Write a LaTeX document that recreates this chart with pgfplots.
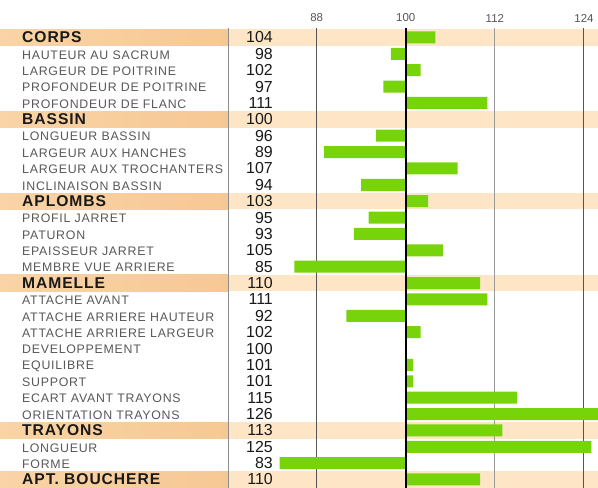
\documentclass[border=0pt]{standalone}
\usepackage{pgfplots}
\pgfplotsset{compat=1.18}
\usepackage{pgfplotstable}
\usepackage{fontspec}
\setmainfont{Liberation Sans}
\newfontfamily\labfont[LetterSpace=6]{Liberation Sans}
\newfontfamily\numfont{Liberation Sans}

\definecolor{barg}{RGB}{120,212,10}
\definecolor{bandp}{RGB}{253,229,197}
\definecolor{bandl}{RGB}{249,212,166}
\definecolor{bandm}{RGB}{239,174,106}
\definecolor{bandr}{RGB}{246,200,148}
\definecolor{labg}{RGB}{88,88,88}
\definecolor{tickg}{RGB}{85,85,85}

\pgfplotstableread[col sep=semicolon]{
row;name;val
1;HAUTEUR AU SACRUM;98
2;LARGEUR DE POITRINE;102
3;PROFONDEUR DE POITRINE;97
4;PROFONDEUR DE FLANC;111
6;LONGUEUR BASSIN;96
7;LARGEUR AUX HANCHES;89
8;LARGEUR AUX TROCHANTERS;107
9;INCLINAISON BASSIN;94
11;PROFIL JARRET;95
12;PATURON;93
13;EPAISSEUR JARRET;105
14;MEMBRE VUE ARRIERE;85
16;ATTACHE AVANT;111
17;ATTACHE ARRIERE HAUTEUR;92
18;ATTACHE ARRIERE LARGEUR;102
19;DEVELOPPEMENT;100
20;EQUILIBRE;101
21;SUPPORT;101
22;ECART AVANT TRAYONS;115
23;ORIENTATION TRAYONS;126
25;LONGUEUR;125
26;FORME;83
}\items

\pgfplotstableread[col sep=semicolon]{
row;name;val
0;CORPS;104
5;BASSIN;100
10;APLOMBS;103
15;MAMELLE;110
24;TRAYONS;113
27;APT. BOUCHERE;110
}\heads

\pgfplotstableread[col sep=semicolon]{
x;y;lab
-12;-1.19;88
0;-1.19;100
12;-1.19;112
24;-1.19;124
}\ticks

\newcommand\band[2]{%
  \addplot[draw=none, fill=bandp, forget plot] coordinates {(-23.94,#1) (26.5,#1) (26.5,#2) (-23.94,#2)} --cycle;
  \addplot[draw=none, left color=bandl, middle color=bandm, right color=bandr, forget plot] coordinates {(-55,#1) (-23.94,#1) (-23.94,#2) (-55,#2)} --cycle;
}

\begin{document}
\begin{tikzpicture}
\begin{axis}[
  scale only axis, width=598bp, height=488bp,
  xmin=-54.65, xmax=25.89, ymin=-2.29, ymax=27.52,
  y dir=reverse,
  axis line style={draw=none}, tick style={draw=none},
  xtick=\empty, ytick=\empty,
]
\addplot[draw=none, mark=none, forget plot] coordinates {(-54.65,-2.29) (25.89,27.52)};
% header bands
\band{-0.5}{0.5}
\band{4.5}{5.5}
\band{9.5}{10.5}
\band{14.5}{15.5}
\band{23.5}{24.5}
\band{26.5}{27.5}
% grid lines
\addplot[draw=tickg, line width=1bp, forget plot] coordinates {(-12,-0.58) (-12,27.6)};
\addplot[draw=black!40, line width=1bp, forget plot] coordinates {(12,-0.58) (12,27.6)};
\addplot[draw=tickg, line width=1bp, forget plot] coordinates {(24,-0.58) (24,27.6)};
\addplot[draw=black!45, line width=0.8bp, forget plot] coordinates {(-23.94,-0.58) (-23.94,27.6)};
% bars
\addplot[xbar, bar shift=0pt, bar width=12bp, fill=barg, draw=none, forget plot]
  table[x expr=\thisrow{val}-100, y=row] {\items};
\addplot[xbar, bar shift=0pt, bar width=12bp, fill=barg, draw=none, forget plot]
  table[x expr=\thisrow{val}-100, y=row] {\heads};
% 100 line
\addplot[draw=black, line width=2.4bp, forget plot] coordinates {(0,-0.58) (0,27.6)};
% tick labels
\addplot[draw=none, mark=none, nodes near coords, point meta=explicit symbolic,
  nodes near coords style={anchor=center, inner sep=0pt, text=tickg, font=\fontsize{11.5}{11.5}\selectfont}]
  table[x=x, y=y, meta=lab] {\ticks};
% item labels
\addplot[draw=none, mark=none, nodes near coords, point meta=explicit symbolic,
  nodes near coords style={anchor=west, inner sep=0pt, yshift=-1bp, text=labg, font=\labfont\fontsize{12.4}{12.4}\selectfont}]
  table[x expr=-51.69, y=row, meta=name] {\items};
% header labels
\addplot[draw=none, mark=none, nodes near coords, point meta=explicit symbolic,
  nodes near coords style={anchor=west, inner sep=0pt, text=black!90, font=\labfont\bfseries\fontsize{15.7}{15.7}\selectfont}]
  table[x expr=-51.69, y=row, meta=name] {\heads};
% numbers
\addplot[draw=none, mark=none, nodes near coords, point meta=explicit symbolic,
  nodes near coords style={anchor=east, inner sep=0pt, text=black!90, font=\numfont\fontsize{16}{16}\selectfont}]
  table[x expr=-17.88, y=row, meta=val] {\items};
\addplot[draw=none, mark=none, nodes near coords, point meta=explicit symbolic,
  nodes near coords style={anchor=east, inner sep=0pt, text=black!90, font=\numfont\fontsize{16}{16}\selectfont}]
  table[x expr=-17.88, y=row, meta=val] {\heads};
\end{axis}
\end{tikzpicture}
\end{document}
